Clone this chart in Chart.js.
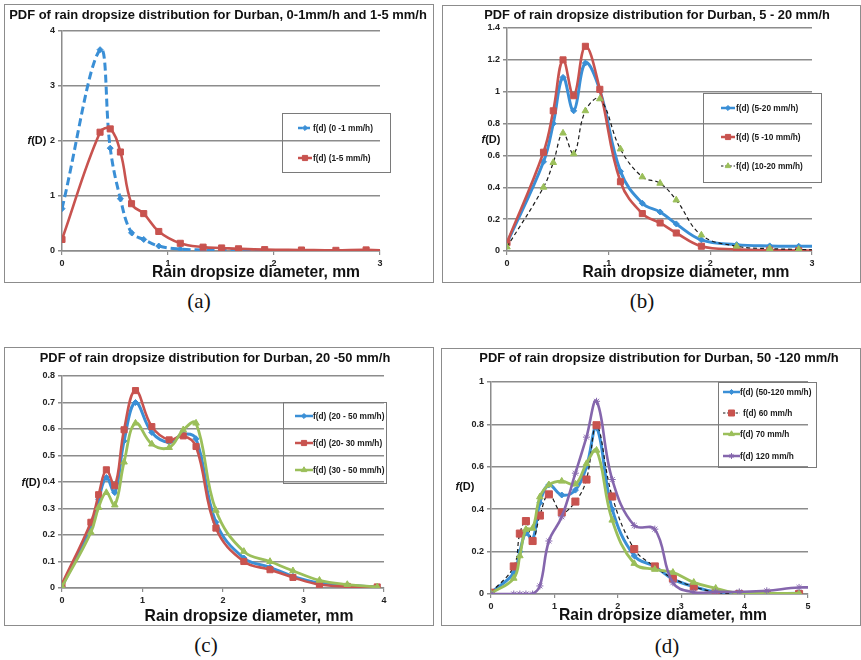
<!DOCTYPE html>
<html><head><meta charset="utf-8">
<script src="https://cdn.jsdelivr.net/npm/chart.js@4/dist/chart.umd.min.js"></script>
<style>
body{margin:0;background:#fff;width:861px;height:660px;position:relative;overflow:hidden}
canvas{position:absolute}
.cap{position:absolute;font-family:"Liberation Serif","Times New Roman",serif;font-size:21px;color:#111;transform:translate(-50%,-50%);white-space:nowrap}
</style></head><body>
<div class="cap" style="left:199px;top:301px">(a)</div>
<div class="cap" style="left:642px;top:301px">(b)</div>
<div class="cap" style="left:206px;top:645px">(c)</div>
<div class="cap" style="left:667px;top:646px">(d)</div>
<script>
// ---------- DATA ----------
const diameters = [0, 0.359, 0.455, 0.551, 0.656, 0.771, 0.913, 1.116, 1.331, 1.506, 1.665, 1.912, 2.259, 2.584, 2.869, 3.198, 3.544, 3.916, 4.35, 4.859, 5.373];

// (a) 0-1 and 1-5 mm/h
const pdf_0_1   = [0.77, 3.66, 1.87, 0.95, 0.33, 0.21, 0.09, 0.035, 0.02, 0.012, 0.008, 0.005, 0.003, 0.002, 0.002, 0];
const pdf_1_5   = [0.21, 2.16, 2.22, 1.80, 0.86, 0.68, 0.355, 0.14, 0.07, 0.055, 0.04, 0.025, 0.018, 0.012, 0.02, 0];
// (b) 5-20 mm/h
const pdf_5_20  = [0.05, 0.56, 0.80, 1.09, 0.88, 1.18, 1.01, 0.50, 0.30, 0.245, 0.17, 0.07, 0.04, 0.032, 0.03, 0.028];
const pdf_5_10  = [0.053, 0.62, 0.88, 1.20, 0.975, 1.285, 1.015, 0.435, 0.235, 0.176, 0.113, 0.03, 0.01, 0.005, 0.003, 0.002];
const pdf_10_20 = [0.025, 0.40, 0.555, 0.74, 0.61, 0.88, 0.955, 0.64, 0.465, 0.425, 0.32, 0.10, 0.03, 0.015, 0.01, 0.005];
// (c) 20-50 mm/h
const pdf_20_50 = [0.006, 0.23, 0.335, 0.417, 0.36, 0.555, 0.70, 0.587, 0.55, 0.58, 0.563, 0.248, 0.113, 0.078, 0.044, 0.019, 0.01, 0.004];
const pdf_20_30 = [0.015, 0.248, 0.352, 0.446, 0.386, 0.597, 0.745, 0.609, 0.559, 0.574, 0.534, 0.226, 0.10, 0.069, 0.04, 0.013, 0.006, 0.004];
const pdf_30_50 = [0.005, 0.21, 0.304, 0.36, 0.313, 0.475, 0.622, 0.543, 0.53, 0.597, 0.622, 0.293, 0.138, 0.10, 0.065, 0.029, 0.013, 0.004];
// (d) 50-120 mm/h
const pdf_50_120 = [0.006, 0.10, 0.20, 0.288, 0.255, 0.43, 0.515, 0.467, 0.49, 0.60, 0.785, 0.40, 0.18, 0.13, 0.07, 0.035, 0.01, 0.003, 0.001, 0.003];
const pdf_60     = [0.006, 0.13, 0.285, 0.344, 0.25, 0.37, 0.47, 0.385, 0.436, 0.54, 0.796, 0.46, 0.212, 0.13, 0.074, 0.035, 0.008, 0, 0, 0];
const pdf_70     = [0.003, 0.074, 0.18, 0.305, 0.31, 0.458, 0.515, 0.532, 0.518, 0.615, 0.678, 0.348, 0.144, 0.116, 0.102, 0.055, 0.027, 0.003, 0.003, 0.003];
const pdf_120    = [0, 0, 0, 0, 0, 0.038, 0.25, 0.364, 0.57, 0.74, 0.909, 0.54, 0.323, 0.306, 0.053, 0.008, 0.01, 0.01, 0.015, 0.031, 0.025];

// tick labels
const xTicksA = ['0','1','2','3'];
const yTicksA = ['0','1','2','3','4'];
const xTicksB = ['0','1','2','3'];
const yTicksB = ['0','0.2','0.4','0.6','0.8','1','1.2','1.4'];
const xTicksC = ['0','1','2','3','4'];
const yTicksC = ['0','0.1','0.2','0.3','0.4','0.5','0.6','0.7','0.8'];
const xTicksD = ['0','1','2','3','4','5'];
const yTicksD = ['0','0.2','0.4','0.6','0.8','1'];

// ---------- STYLE ----------
const F = '"Liberation Sans", Arial, Helvetica, sans-serif';
const BLUE = '#3a8fd6', RED = '#c8534f', GREEN = '#9bbf5a', PURPLE = '#8566ad', BLACK = '#1a1a1a';
const GRID = '#8c8c8c';

function series(label, vals, st, i) {
  return Object.assign({
    label, order: -i, tension: 0.4, fill: false,
    data: vals.map((v, k) => ({x: diameters[k], y: v})),
    pointBorderWidth: 1
  }, st);
}
const S = {
  blueDash: {borderColor: BLUE, borderWidth: 3, borderDash: [8, 4], pointStyle: 'rectRot', pointRadius: 3, pointBackgroundColor: BLUE, pointBorderColor: BLUE},
  blue:     {borderColor: BLUE, borderWidth: 3, pointStyle: 'rectRot', pointRadius: 3, pointBackgroundColor: BLUE, pointBorderColor: BLUE},
  red:      {borderColor: RED, borderWidth: 2.6, pointStyle: 'rect', pointRadius: 4.3, pointBackgroundColor: RED, pointBorderColor: RED},
  green:    {borderColor: GREEN, borderWidth: 2.8, pointStyle: 'triangle', pointRadius: 3.8, pointBackgroundColor: GREEN, pointBorderColor: GREEN},
  greenDash:{borderColor: BLACK, borderWidth: 1.2, borderDash: [4, 3], pointStyle: 'triangle', pointRadius: 3.8, pointBackgroundColor: GREEN, pointBorderColor: GREEN},
  redDash:  {borderColor: BLACK, borderWidth: 1.2, borderDash: [4, 3], pointStyle: 'rect', pointRadius: 5, pointBackgroundColor: RED, pointBorderColor: RED},
  purple:   {borderColor: PURPLE, borderWidth: 2.6, pointStyle: 'star', pointRadius: 3.5, pointBackgroundColor: PURPLE, pointBorderColor: PURPLE}
};

function fitFont(ctx, str, weight, target, style) {
  ctx.font = `${style||''} ${weight} 20px ${F}`;
  const m = ctx.measureText(str).width;
  return 20 * target / m;
}

const decor = {
  id: 'decor',
  afterDraw(chart, args, o) {
    const ctx = chart.ctx, ox = o.ox, oy = o.oy;
    ctx.save();
    // panel border
    ctx.strokeStyle = '#8c8c8c'; ctx.lineWidth = 1; ctx.setLineDash([]);
    ctx.strokeRect(0.5, 0.5, chart.width - 1, chart.height - 1);
    ctx.fillStyle = '#111'; ctx.textBaseline = 'middle'; ctx.textAlign = 'center';
    // title
    let sz = fitFont(ctx, o.title.text, 'bold', o.title.w);
    ctx.font = `bold ${sz}px ${F}`;
    ctx.fillText(o.title.text, o.title.cx - ox, o.title.cy - oy);
    // x axis title
    sz = fitFont(ctx, o.xTitle.text, 'bold', o.xTitle.w);
    ctx.font = `bold ${sz}px ${F}`;
    ctx.fillText(o.xTitle.text, o.xTitle.cx - ox, o.xTitle.cy - oy);
    // y label f(D)
    ctx.font = `italic bold 11px ${F}`; const wf = ctx.measureText('f').width;
    ctx.font = `bold 11px ${F}`; const wd = ctx.measureText('(D)').width;
    const x0 = o.yLab.cx - ox - (wf + wd) / 2;
    ctx.textAlign = 'left';
    ctx.font = `italic bold 11px ${F}`; ctx.fillText('f', x0, o.yLab.cy - oy);
    ctx.font = `bold 11px ${F}`; ctx.fillText('(D)', x0 + wf, o.yLab.cy - oy);
    // legend
    const L = o.legend;
    ctx.strokeStyle = '#7a7a7a'; ctx.lineWidth = 1;
    ctx.strokeRect(L.box[0] - ox + 0.5, L.box[1] - oy + 0.5, L.box[2], L.box[3]);
    chart.data.datasets.forEach((d, i) => {
      const y = L.ys[i] - oy, sx = L.sx - ox;
      ctx.save();
      ctx.strokeStyle = d.borderColor; ctx.lineWidth = Math.min(d.borderWidth, 2.5);
      ctx.setLineDash(d.borderDash ? d.borderDash.map(v => v * 0.6) : []);
      ctx.beginPath(); ctx.moveTo(sx, y); ctx.lineTo(sx + L.sw, y); ctx.stroke();
      ctx.setLineDash([]);
      ctx.fillStyle = d.pointBackgroundColor; ctx.strokeStyle = d.pointBorderColor; ctx.lineWidth = 1;
      Chart.helpers.drawPoint(ctx, {pointStyle: d.pointStyle, radius: d.pointRadius * 0.85, rotation: 0, borderWidth: 1}, sx + L.sw / 2, y);
      ctx.restore();
      ctx.fillStyle = '#1a1a1a'; ctx.textAlign = 'left';
      ctx.font = `bold 8.3px ${F}`;
      ctx.fillText(d.label, (L.tx[i] || L.tx[0]) - ox, y + 0.5);
    });
    ctx.restore();
  }
};

function makeChart(c) {
  const cv = document.createElement('canvas');
  cv.width = c.w; cv.height = c.h;
  cv.style.left = c.ox + 'px'; cv.style.top = c.oy + 'px';
  cv.style.width = c.w + 'px'; cv.style.height = c.h + 'px';
  document.body.appendChild(cv);
  const tickFont = {family: F, size: 9, weight: 'bold'};
  new Chart(cv, {
    type: 'line',
    data: {datasets: c.datasets},
    options: {
      responsive: false, animation: false, devicePixelRatio: 1,
      layout: {padding: {left: 0, bottom: 0, top: c.area.t - c.oy, right: c.ox + c.w - c.area.r}},
      plugins: {legend: {display: false}, tooltip: {enabled: false}, title: {display: false},
        decor: {ox: c.ox, oy: c.oy, title: c.title, xTitle: c.xTitle, yLab: c.yLab, legend: c.legend}},
      elements: {line: {capBezierPoints: true}},
      scales: {
        x: {
          type: 'linear', min: 0, max: Number(c.xTicks[c.xTicks.length - 1]),
          afterBuildTicks: s => { s.ticks = c.xTicks.map(t => ({value: Number(t)})); },
          afterFit: s => { s.height = c.oy + c.h - c.area.b; },
          ticks: {font: tickFont, color: '#222', padding: 3, maxRotation: 0, callback: (v, i) => c.xTicks[i]},
          grid: {drawOnChartArea: false, drawTicks: true, tickLength: 4, color: GRID, lineWidth: 1.2},
          border: {display: true, color: GRID, width: 1.5}
        },
        y: {
          type: 'linear', min: 0, max: Number(c.yTicks[c.yTicks.length - 1]),
          afterBuildTicks: s => { s.ticks = c.yTicks.map(t => ({value: Number(t)})); },
          afterFit: s => { s.width = c.area.l - c.ox; },
          ticks: {font: tickFont, color: '#222', padding: 3, callback: (v, i) => c.yTicks[i]},
          grid: {color: GRID, lineWidth: 1.5, tickLength: 4},
          border: {display: true, color: GRID, width: 1.5}
        }
      }
    },
    plugins: [decor]
  });
}

const TITLE = 'PDF of rain dropsize distribution for Durban, ';
const XT = 'Rain dropsize diameter, mm';

makeChart({
  ox: 4, oy: 4, w: 430, h: 279, area: {l: 62, r: 380, t: 31, b: 251},
  xTicks: xTicksA, yTicks: yTicksA,
  title: {text: TITLE + '0-1mm/h and 1-5 mm/h', cx: 218, cy: 15, w: 418},
  xTitle: {text: XT, cx: 256, cy: 273, w: 208},
  yLab: {cx: 37, cy: 141},
  legend: {box: [282, 113, 108, 59], sx: 298, sw: 14, tx: [313], ys: [128, 158]},
  datasets: [
    series('f(d) (0 -1 mm/h)', pdf_0_1, S.blueDash, 0),
    series('f(d) (1-5 mm/h)', pdf_1_5, S.red, 1)
  ]
});

makeChart({
  ox: 442, oy: 5, w: 419, h: 278, area: {l: 507, r: 812, t: 28, b: 251},
  xTicks: xTicksB, yTicks: yTicksB,
  title: {text: TITLE + '5 - 20 mm/h', cx: 657, cy: 15, w: 346},
  xTitle: {text: XT, cx: 686, cy: 273, w: 207},
  yLab: {cx: 491, cy: 140},
  legend: {box: [703, 93, 118, 89], sx: 721, sw: 14, tx: [736], ys: [108, 137, 166]},
  datasets: [
    series('f(d) (5-20 mm/h)', pdf_5_20, S.blue, 0),
    series('f(d) (5 -10 mm/h)', pdf_5_10, S.red, 1),
    series('f(d) (10-20 mm/h)', pdf_10_20, S.greenDash, 2)
  ]
});

makeChart({
  ox: 4, oy: 347, w: 430, h: 279, area: {l: 62, r: 384, t: 376, b: 588},
  xTicks: xTicksC, yTicks: yTicksC,
  title: {text: TITLE + '20 -50 mm/h', cx: 215, cy: 358, w: 351},
  xTitle: {text: XT, cx: 249, cy: 617, w: 209},
  yLab: {cx: 31, cy: 483},
  legend: {box: [283, 402, 103, 81], sx: 295, sw: 18, tx: [313], ys: [416, 443, 470]},
  datasets: [
    series('f(d) (20 - 50 mm/h)', pdf_20_50, S.blue, 0),
    series('f(d) (20- 30 mm/h)', pdf_20_30, S.red, 1),
    series('f(d) (30 - 50 mm/h)', pdf_30_50, S.green, 2)
  ]
});

makeChart({
  ox: 441, oy: 348, w: 420, h: 278, area: {l: 491, r: 808, t: 382, b: 594},
  xTicks: xTicksD, yTicks: yTicksD,
  title: {text: TITLE + '50 -120 mm/h', cx: 659, cy: 358, w: 360},
  xTitle: {text: XT, cx: 663, cy: 616, w: 208},
  yLab: {cx: 465, cy: 487},
  legend: {box: [718, 382, 98, 85], sx: 723, sw: 17, tx: [740, 743, 740, 740], ys: [392, 413, 434, 456]},
  datasets: [
    series('f(d) (50-120 mm/h)', pdf_50_120, S.blue, 0),
    series('f(d) 60 mm/h', pdf_60, S.redDash, 1),
    series('f(d) 70 mm/h', pdf_70, S.green, 2),
    series('f(d) 120 mm/h', pdf_120, S.purple, 3)
  ]
});
</script>
</body></html>
